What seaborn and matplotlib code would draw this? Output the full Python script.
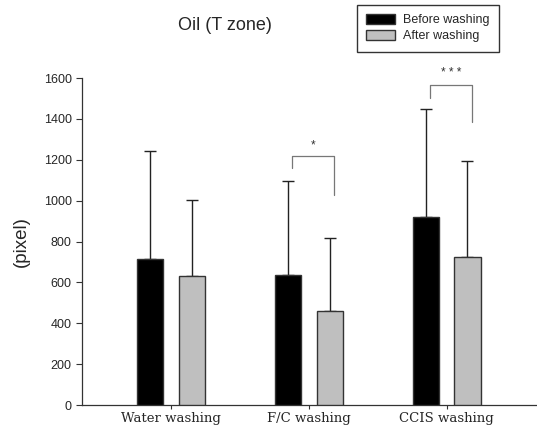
"""Oil (T zone) bar chart, before vs after washing."""
import matplotlib
matplotlib.use('Agg')
import matplotlib.pyplot as plt
import pandas as pd
import seaborn as sns

# values
methods = ['Water washing', 'F/C washing', 'CCIS washing']
before = [714, 634, 918]
after = [632, 460, 722]
before_sd = [529, 462, 530]
after_sd = [369, 359, 470]
groups = ['Before washing', 'After washing']

# significance brackets: (category index, top, left leg end, right leg end, label)
brackets = [(1, 1218, 1160, 1027, '*'), (2, 1568, 1500, 1383, '* * *')]

df = pd.DataFrame({
    'method': methods * 2,
    'value': before + after,
    'group': [groups[0]] * 3 + [groups[1]] * 3,
})
sds = before_sd + after_sd

sns.set_style('ticks')
plt.rcParams['font.family'] = ['Liberation Sans', 'DejaVu Sans']

fig = plt.figure(figsize=(5.37, 4.30), dpi=100)
ax = fig.add_axes([0.1527, 0.0581, 0.845, 0.7605])

sns.barplot(data=df, x='method', y='value', hue='group', hue_order=groups,
            palette=['black', '#bfbfbf'], width=0.6, gap=0.37,
            edgecolor='#333333', linewidth=1.0, errorbar=None, ax=ax,
            zorder=3)

# one-sided (upper) error bars
for bar, sd in zip(ax.patches[:6], sds):
    cx = bar.get_x() + bar.get_width() / 2
    top = bar.get_height()
    ax.errorbar(cx, top, yerr=[[0], [sd]], fmt='none', ecolor='#222222',
                elinewidth=1.0, capsize=4, capthick=1.0, zorder=1)

# significance brackets
for idx, top, left_end, right_end, label in brackets:
    xl = idx - 0.15 + 0.03
    xr = idx + 0.15 + 0.03
    ax.plot([xl, xl, xr, xr], [left_end, top, top, right_end],
            color='#777777', lw=0.9, clip_on=False, zorder=4)
    ax.text((xl + xr) / 2, top + 25, label, ha='center', va='bottom',
            fontsize=8.5, color='#333333', clip_on=False)

ax.set_ylim(0, 1600)
ax.set_xlim(-0.645, 2.645)
ax.set_yticks(range(0, 1601, 200))
ax.set_xlabel('')
ax.set_ylabel('(pixel)', fontsize=13.5, labelpad=10)
ax.tick_params(axis='y', labelsize=9, length=4, width=0.8, color='#333333')
ax.tick_params(axis='x', length=3, width=0.8, color='#333333', pad=2)
for lab in ax.get_xticklabels():
    lab.set_family('DejaVu Serif')
    lab.set_fontsize(9.5)
for side in ['top', 'right']:
    ax.spines[side].set_visible(False)
for side in ['left', 'bottom']:
    ax.spines[side].set_color('#333333')
    ax.spines[side].set_linewidth(0.9)

fig.text(225 / 537, 1 - 26 / 430, 'Oil (T zone)', ha='center', va='center',
         fontsize=13)

handles, labels = ax.get_legend_handles_labels()
ax.get_legend().remove()
leg = fig.legend(handles, labels, loc='upper left',
                 bbox_to_anchor=(357 / 537, 1 - 5 / 430), fontsize=9,
                 frameon=True, fancybox=False, edgecolor='black',
                 handlelength=2.3, handleheight=0.8, handletextpad=0.6,
                 labelspacing=0.3, borderpad=0.75, borderaxespad=0)
leg.get_frame().set_linewidth(1.0)

fig.savefig('out.png', dpi=100)
